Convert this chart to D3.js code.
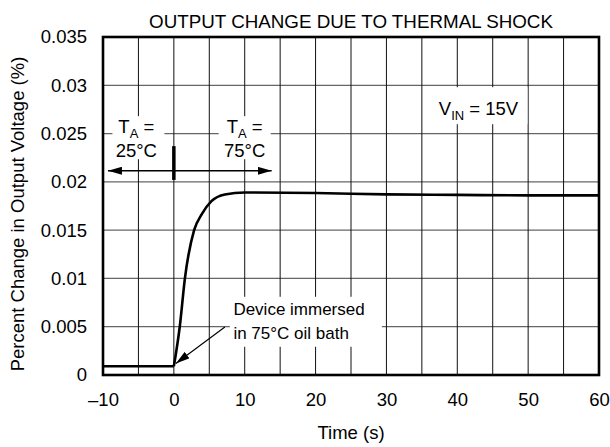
<!DOCTYPE html>
<html>
<head>
<meta charset="utf-8">
<script src="https://cdn.jsdelivr.net/npm/d3@7"></script>
<style>
  body { margin: 0; background: #fff; }
  svg { display: block; font-family: "Liberation Sans", Arial, sans-serif; }
</style>
</head>
<body>
<div id="chart"></div>
<script>
// Values.
var timeS = [-10, 0, 0.85, 1.56, 2.86, 3.9, 5.3, 7.2, 10, 20, 30, 40, 50, 60];
var changePct = [0.0009, 0.0009, 0.0051, 0.0100, 0.0150, 0.0166, 0.0180, 0.0187,
                 0.0189, 0.01885, 0.0187, 0.01865, 0.0186, 0.0186];

var xTicks = [-10, 0, 10, 20, 30, 40, 50, 60];
var xTickLabels = ["\u201310", "0", "10", "20", "30", "40", "50", "60"];
var yTicks = [0, 0.005, 0.01, 0.015, 0.02, 0.025, 0.03, 0.035];
var yTickLabels = ["0", "0.005", "0.01", "0.015", "0.02", "0.025", "0.03", "0.035"];
var xGrid = [-5, 0, 5, 10, 15, 20, 25, 30, 35, 40, 45, 50, 55];
var yGrid = [0.005, 0.01, 0.015, 0.02, 0.025, 0.03];

var width = 610, height = 447;
var margin = {top: 37, right: 11, bottom: 72, left: 103};
var w = width - margin.left - margin.right;
var h = height - margin.top - margin.bottom;

var svg = d3.select("#chart").append("svg")
  .attr("width", width)
  .attr("height", height);

var defs = svg.append("defs");
defs.append("marker")
  .attr("id", "head")
  .attr("viewBox", "0 0 14 8")
  .attr("refX", 14).attr("refY", 4)
  .attr("markerWidth", 14).attr("markerHeight", 8)
  .attr("markerUnits", "userSpaceOnUse")
  .attr("orient", "auto-start-reverse")
  .append("path").attr("d", "M0,0L14,4L0,8Z").attr("fill", "#000");

var g = svg.append("g")
  .attr("transform", "translate(" + margin.left + "," + margin.top + ")");

var x = d3.scaleLinear().domain([-10, 60]).range([0, w]);
var y = d3.scaleLinear().domain([0, 0.035]).range([h, 0]);

// Grid.
g.append("g").selectAll("line").data(yGrid).join("line")
  .attr("x1", 0).attr("x2", w)
  .attr("y1", function (d) { return y(d); }).attr("y2", function (d) { return y(d); })
  .attr("stroke", "#666").attr("stroke-width", 1.2);
g.append("g").selectAll("line").data(xGrid).join("line")
  .attr("y1", 0).attr("y2", h)
  .attr("x1", function (d) { return x(d); }).attr("x2", function (d) { return x(d); })
  .attr("stroke", "#111").attr("stroke-width", 1);

// Axes (labels only, the frame is drawn below).
var xAxis = g.append("g")
  .attr("transform", "translate(0," + h + ")")
  .call(d3.axisBottom(x).tickValues(xTicks)
    .tickFormat(function (d, i) { return xTickLabels[i]; })
    .tickSize(0).tickPadding(18));
var yAxis = g.append("g")
  .call(d3.axisLeft(y).tickValues(yTicks)
    .tickFormat(function (d, i) { return yTickLabels[i]; })
    .tickSize(0).tickPadding(16));
[xAxis, yAxis].forEach(function (a) {
  a.select(".domain").remove();
  a.selectAll("text").attr("font-size", 18.5).attr("fill", "#000")
    .attr("font-family", "Liberation Sans, Arial, sans-serif");
});

// White boxes that break the grid behind the annotations.
function box(x0, y0, bw, bh) {
  g.append("rect").attr("x", x0).attr("y", y0)
    .attr("width", bw).attr("height", bh).attr("fill", "#fff");
}
box(x(-5) - 26, y(0.0268), 52, 43);
box(x(10) - 26, y(0.0268), 52, 43);
box(x(37.2), y(0.0298), 90, 37);
box(x(7.9), y(0.0081), 152, 50);

// Curve.
var pts = timeS.map(function (t, i) { return [t, changePct[i]]; });
var line = d3.line()
  .x(function (d) { return x(d[0]); })
  .y(function (d) { return y(d[1]); });
g.append("path")
  .datum(pts.slice(0, 2))
  .attr("d", line)
  .attr("fill", "none").attr("stroke", "#000").attr("stroke-width", 2.6);
g.append("path")
  .datum(pts.slice(1))
  .attr("d", line.curve(d3.curveMonotoneX))
  .attr("fill", "none").attr("stroke", "#000").attr("stroke-width", 2.6)
  .attr("stroke-linejoin", "round");

// Frame.
g.append("rect").attr("width", w).attr("height", h)
  .attr("fill", "none").attr("stroke", "#000").attr("stroke-width", 2.6);

// Temperature annotations.
function taLabel(cx, temp) {
  var t = g.append("text").attr("text-anchor", "middle").attr("font-size", 18.5)
    .attr("x", cx).attr("y", y(0.0250) - 1);
  t.append("tspan").text("T");
  t.append("tspan").attr("font-size", 13).attr("dy", 5).text("A");
  t.append("tspan").attr("dy", -5).text(" =");
  g.append("text").attr("text-anchor", "middle").attr("font-size", 18.5)
    .attr("x", cx).attr("y", y(0.0226)).text(temp);
}
taLabel(x(-5.3), "25\u00b0C");
taLabel(x(10), "75\u00b0C");

g.append("line")
  .attr("x1", x(-9.3)).attr("x2", x(13.8))
  .attr("y1", y(0.02115)).attr("y2", y(0.02115))
  .attr("stroke", "#000").attr("stroke-width", 1.3)
  .attr("marker-start", "url(#head)").attr("marker-end", "url(#head)");
g.append("line")
  .attr("x1", x(0)).attr("x2", x(0))
  .attr("y1", y(0.0237)).attr("y2", y(0.0202))
  .attr("stroke", "#000").attr("stroke-width", 3.5);

// Supply voltage.
var vin = g.append("text").attr("font-size", 18.5)
  .attr("x", x(37.4)).attr("y", y(0.0269));
vin.append("tspan").text("V");
vin.append("tspan").attr("font-size", 13).attr("dy", 5).text("IN");
vin.append("tspan").attr("dy", -5).text(" = 15V");

// Immersion note.
var note = g.append("text").attr("font-size", 17).attr("x", x(8.4));
note.append("tspan").attr("y", y(0.0062)).text("Device immersed");
note.append("tspan").attr("x", x(8.4)).attr("y", y(0.0037)).text("in 75\u00b0C oil bath");
g.append("line")
  .attr("x1", x(7.2)).attr("y1", y(0.00497))
  .attr("x2", x(0.28)).attr("y2", y(0.0012))
  .attr("stroke", "#000").attr("stroke-width", 1.2)
  .attr("marker-end", "url(#head)");

// Title and axis titles.
svg.append("text").attr("x", margin.left + w / 2).attr("y", 28)
  .attr("text-anchor", "middle").attr("font-size", 18.8)
  .text("OUTPUT CHANGE DUE TO THERMAL SHOCK");
svg.append("text").attr("x", margin.left + w / 2).attr("y", 439)
  .attr("text-anchor", "middle").attr("font-size", 18.5)
  .text("Time (s)");
svg.append("text")
  .attr("transform", "translate(24,214) rotate(-90)")
  .attr("text-anchor", "middle").attr("font-size", 18.5)
  .text("Percent Change in Output Voltage (%)");
</script>
</body>
</html>
